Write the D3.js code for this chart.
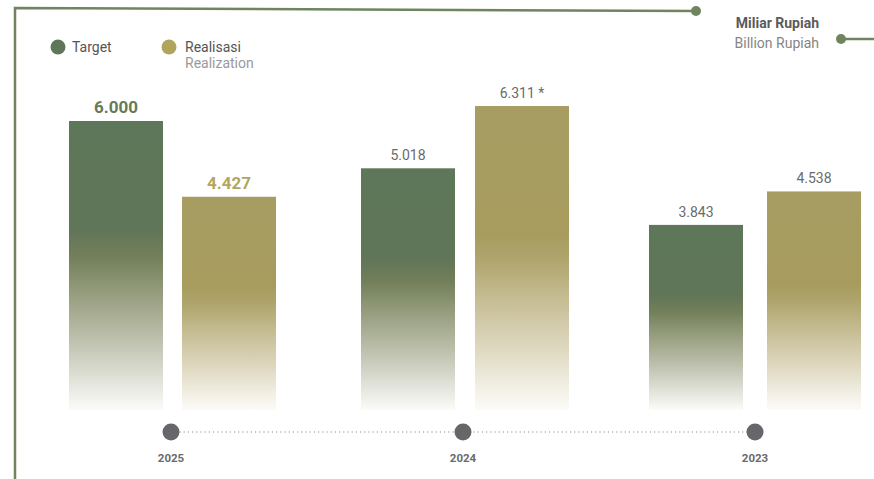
<!DOCTYPE html>
<html>
<head>
<meta charset="utf-8">
<script src="https://cdn.jsdelivr.net/npm/d3@7"></script>
<style>
  html, body { margin: 0; padding: 0; background: #ffffff; }
  svg { display: block; font-family: Roboto, "Noto Sans", sans-serif; }
</style>
</head>
<body>
<svg id="chart" width="874" height="479"></svg>
<script>
// Years, left to right
const years = ["2025", "2024", "2023"];
// Target and realisation, in billion rupiah
const targetValues = [6.000, 5.018, 3.843];
const realisasiValues = [4.427, 6.311, 4.538];
// Labels printed above the bars
const targetLabels = ["6.000", "5.018", "3.843"];
const realisasiLabels = ["4.427", "6.311 *", "4.538"];

const svg = d3.select("#chart");

const green = "#5f7659";
const frameColor = "#6f845f";

// Gradients fading each bar to white at its base
const defs = svg.append("defs");
function fade(id, stops) {
  const g = defs.append("linearGradient").attr("id", id)
    .attr("x1", 0).attr("y1", 0).attr("x2", 0).attr("y2", 1);
  stops.forEach(([o, c]) => g.append("stop").attr("offset", o).attr("stop-color", c));
}
fade("gTarget", [[0, "#5e7659"], [0.38, "#617658"], [0.47, "#737f5a"], [0.6, "#979e7f"], [0.75, "#bcbfab"], [0.9, "#e2e3da"], [1, "#fbfbf9"]]);
fade("gReal", [[0, "#a79d62"], [0.42, "#a79c5e"], [0.5, "#aea46c"], [0.62, "#c3ba8f"], [0.78, "#dcd5bb"], [0.92, "#f1eee3"], [1, "#fcfbf8"]]);

// Frame: left rule and top rule ending in a dot
svg.append("path")
  .attr("d", "M15,479 L15,8 L696,11")
  .attr("fill", "none").attr("stroke", frameColor).attr("stroke-width", 2.5);
svg.append("circle").attr("cx", 696).attr("cy", 11).attr("r", 5).attr("fill", frameColor);

// Unit note with its rule
svg.append("text").attr("x", 819).attr("y", 28).attr("text-anchor", "end")
  .attr("font-size", 14).attr("font-weight", 700).attr("fill", "#5b5b5b").text("Miliar Rupiah");
svg.append("text").attr("x", 819).attr("y", 48).attr("text-anchor", "end")
  .attr("font-size", 14).attr("fill", "#858585").text("Billion Rupiah");
svg.append("line").attr("x1", 841).attr("x2", 874).attr("y1", 39).attr("y2", 39)
  .attr("stroke", frameColor).attr("stroke-width", 2.5);
svg.append("circle").attr("cx", 841).attr("cy", 39).attr("r", 5).attr("fill", frameColor);

// Legend
const legend = svg.append("g");
legend.append("circle").attr("cx", 58).attr("cy", 47).attr("r", 7.5).attr("fill", green);
legend.append("text").attr("x", 72).attr("y", 52).attr("font-size", 14).attr("fill", "#555").text("Target");
legend.append("circle").attr("cx", 169).attr("cy", 47).attr("r", 7.5).attr("fill", "#b0a55c");
legend.append("text").attr("x", 185).attr("y", 52).attr("font-size", 14).attr("fill", "#555").text("Realisasi");
legend.append("text").attr("x", 185).attr("y", 68).attr("font-size", 14).attr("fill", "#9a9a9a").text("Realization");

// Scales
const x0 = d3.scalePoint().domain(years).range([171, 755]);
const y = d3.scaleLinear().domain([0, 6]).range([410, 121]);
const barW = 94;
// Left edges of the target / realisasi bars relative to each year's axis dot
const offsets = [[-102, 11], [-102, 12], [-106, 12]];

const data = years.map((yr, i) => ({
  year: yr,
  bars: [
    { key: "t", v: targetValues[i], label: targetLabels[i], x: x0(yr) + offsets[i][0] },
    { key: "r", v: realisasiValues[i], label: realisasiLabels[i], x: x0(yr) + offsets[i][1] }
  ]
}));

const groups = svg.append("g").selectAll("g").data(data).join("g");
groups.selectAll("rect").data(d => d.bars).join("rect")
  .attr("x", d => d.x).attr("width", barW)
  .attr("y", d => y(d.v)).attr("height", d => y(0) - y(d.v))
  .attr("fill", d => d.key === "t" ? "url(#gTarget)" : "url(#gReal)");

groups.each(function (d, i) {
  d3.select(this).selectAll("text").data(d.bars).join("text")
    .attr("x", b => b.x + barW / 2)
    .attr("y", b => y(b.v) - 8)
    .attr("text-anchor", "middle")
    .attr("font-size", i === 0 ? 17 : 14)
    .attr("font-weight", i === 0 ? 700 : 400)
    .attr("fill", b => i === 0 ? (b.key === "t" ? "#667a5a" : "#b2a75f") : "#6b6b6b")
    .text(b => b.label);
});

// Year axis: dotted track with a dot at each year
const axisY = 432;
svg.append("line").attr("x1", x0(years[0])).attr("x2", x0(years[years.length - 1]))
  .attr("y1", axisY).attr("y2", axisY)
  .attr("stroke", "#8a8a8a").attr("stroke-width", 1.2).attr("stroke-dasharray", "1.2 3");
svg.append("g").selectAll("circle").data(years).join("circle")
  .attr("cx", d => x0(d)).attr("cy", axisY).attr("r", 8.5).attr("fill", "#66666b");
svg.append("g").selectAll("text").data(years).join("text")
  .attr("x", d => x0(d)).attr("y", 462).attr("text-anchor", "middle")
  .attr("font-size", 11.5).attr("font-weight", 700).attr("fill", "#6b6b6b").text(d => d);
</script>
</body>
</html>
